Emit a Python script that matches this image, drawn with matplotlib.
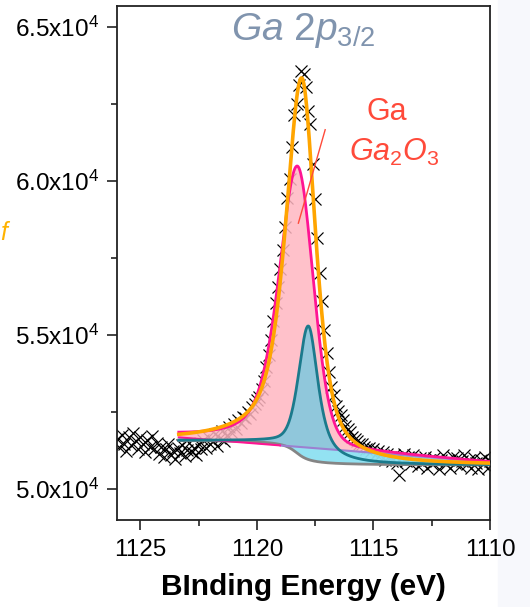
import numpy as np
import matplotlib
matplotlib.use("Agg")
import matplotlib.pyplot as plt
from matplotlib.patches import Rectangle

plt.rcParams['font.family'] = ['Liberation Sans', 'DejaVu Sans']
plt.rcParams['mathtext.fontset'] = 'custom'
plt.rcParams['mathtext.rm'] = 'Liberation Sans'
plt.rcParams['mathtext.it'] = 'Liberation Sans:italic'
plt.rcParams['mathtext.bf'] = 'Liberation Sans:bold'

# ---------------- data ----------------
energy = np.round(np.arange(1126.0, 1109.95, -0.1), 1)
counts = [
    # 1126.0 - 1124.3
    51620, 51380, 51760, 51480, 51250, 51690, 51420, 51830, 51560, 51300,
    51700, 51450, 51200, 51600, 51380, 51720, 51290, 51510,
    # 1124.2 - 1122.4
    51150, 51380, 51050, 51300, 51480, 51100, 51250, 50990, 51350, 51180,
    51420, 51060, 51280, 51500, 51200, 51350, 51100, 51450, 51300,
    # 1122.3 - 1120.0
    51600, 51350, 51700, 51450, 51550, 51800, 51400, 51650, 51900, 51550,
    51750, 52000, 51850, 52100, 51950, 52250, 52150, 52350, 52300, 52500,
    52450, 52650, 52750, 52900,
    # 1119.9 - 1116.0
    53000, 53250, 53500, 53950, 54350, 54850, 55450, 56050, 56550, 57150,
    57750, 58500, 59450, 60050, 61100, 62150, 62500, 63100, 63550, 63450,
    63050, 62250, 61850, 60550, 59400, 58150, 57000, 56100, 55150, 54400,
    53800, 53300, 53050, 52700, 52550, 52400, 52250, 52050, 51950, 51850,
    # 1115.9 - 1110.0
    51700, 51620, 51560, 51480, 51450, 51380, 51300, 51350, 51250, 51300,
    51150, 51250, 51100, 51200, 50950, 51150, 51050, 50900, 51100, 50850,
    50450, 51000, 51150, 50900, 51050, 50800, 51100, 50950, 50750, 51000,
    50850, 51050, 50700, 50950, 50800, 51000, 50900, 50650, 50950, 51100,
    50800, 50950, 50700, 51050, 50850, 51000, 50750, 50900, 51100, 50800,
    50950, 50700, 51000, 50850, 50650, 50950, 50800, 51050, 50700, 50900,
]
assert len(counts) == len(energy)

fit_range = [1123.35, 1110.0]
# Shirley-type background: high side, low side, step centre, step width
bg_high, bg_low, bg_center, bg_width = 51600, 50770, 1118.3, 0.45
# linear baseline of the oxide component (start value, end value)
lin_start, lin_end = 51680, 50880
# peaks: centre, height, HWHM left/right, lorentz fraction left/right
env_peak = [1118.07, 12275, 0.82, 0.71, 0.70, 0.65]
pink_peak = [1118.27, 9105, 0.95, 0.81, 0.55, 0.20]
teal_peak = [1117.79, 4330, 0.50, 0.50, 0.40, 0.80]

title_text = r'$\mathit{Ga\ 2p_{3/2}}$'
yticks = [50000, 55000, 60000, 65000]
ytick_labels = ['5.0x10$^4$', '5.5x10$^4$', '6.0x10$^4$', '6.5x10$^4$']
xticks = [1125, 1120, 1115, 1110]


def pv(x, p):
    c, h, wl, wr, el, er = p
    w = np.where(x > c, wl, wr)
    eta = np.where(x > c, el, er)
    t = ((x - c) / w) ** 2
    return h * (eta / (1 + t) + (1 - eta) * np.exp(-np.log(2) * t))


xf = np.linspace(fit_range[0], fit_range[1], 800)
bg = bg_low + (bg_high - bg_low) * (0.5 + np.arctan((xf - bg_center) / bg_width) / np.pi)
lin = lin_start + (lin_end - lin_start) * (fit_range[0] - xf) / (fit_range[0] - fit_range[1])
env = bg + pv(xf, env_peak)
pink = lin + pv(xf, pink_peak)
teal = bg + pv(xf, teal_peak)

fig = plt.figure(figsize=(5.30, 6.07), dpi=100)
fig.patches.append(Rectangle((498 / 530, 0), 1, 1, transform=fig.transFigure,
                             color='#F7F8FC', zorder=-5))
ax = fig.add_axes([117 / 530, 1 - 520 / 607, 373 / 530, 514 / 607])

ax.plot(energy, counts, ls='none', marker='x', ms=8, mew=0.85, color='black', zorder=1)

ax.fill_between(xf, lin, pink, color='#FFB6C1', alpha=0.85, lw=0, zorder=2)
ax.fill_between(xf, bg, lin, where=lin > bg, color='#8DE1F2', alpha=0.95, lw=0, zorder=3)
ax.fill_between(xf, lin, teal, where=teal > lin, color='#8DC8DC', alpha=0.97, lw=0, zorder=3)

ax.plot(xf, bg, color='#858585', lw=2, zorder=4)
ax.plot(xf[xf <= 1119.0], lin[xf <= 1119.0], color='#9C80D0', lw=1.5, zorder=4)
ax.plot(xf[xf >= 1119.0], lin[xf >= 1119.0], color='#FF1493', lw=1.5, zorder=4)
ax.plot(xf, teal, color='#1B7A8C', lw=2, zorder=5)
ax.plot(xf, pink, color='#FF1493', lw=2, zorder=6)
ax.plot(xf, env, color='#FFA500', lw=2.6, zorder=7)

ax.set_xlim(1126, 1110)
ax.set_ylim(49000, 65670)
ax.set_xticks(xticks)
ax.set_xticks([1122.5, 1117.5, 1112.5], minor=True)
ax.set_yticks(yticks)
ax.set_yticklabels(ytick_labels)
ax.set_yticks([52500, 57500, 62500], minor=True)
ax.tick_params(axis='both', which='major', direction='out', length=7, width=1.2,
               labelsize=17.5, colors='#222222', labelcolor='black')
ax.tick_params(axis='both', which='minor', direction='out', length=4, width=1.2, colors='#222222')
ax.tick_params(axis='x', pad=7)
ax.tick_params(axis='y', pad=6)
for s in ax.spines.values():
    s.set_linewidth(1.3)
    s.set_color('#222222')

ax.set_xlabel('BInding Energy (eV)', fontsize=21.5, fontweight='bold', labelpad=8)

ax.text(0.50, 0.99, title_text, transform=ax.transAxes, ha='center', va='top',
        fontsize=28, color='#8094AE')
ax.text(0.724, 0.794, 'Ga', transform=ax.transAxes, ha='center', va='center',
        fontsize=22, color='#FF4A3A')
ax.text(0.743, 0.716, r'$\mathit{Ga_2O_3}$', transform=ax.transAxes, ha='center', va='center',
        fontsize=22, color='#FF4A3A')
ax.plot([1117.07, 1118.22], [61657, 58627], color='#FF4A3A', lw=1.0, zorder=8)

fig.text(0.001, 1 - 233 / 607, 'f', ha='left', va='center', fontsize=18,
         color='#FFB300', style='italic')

fig.savefig('out.png', dpi=100)
